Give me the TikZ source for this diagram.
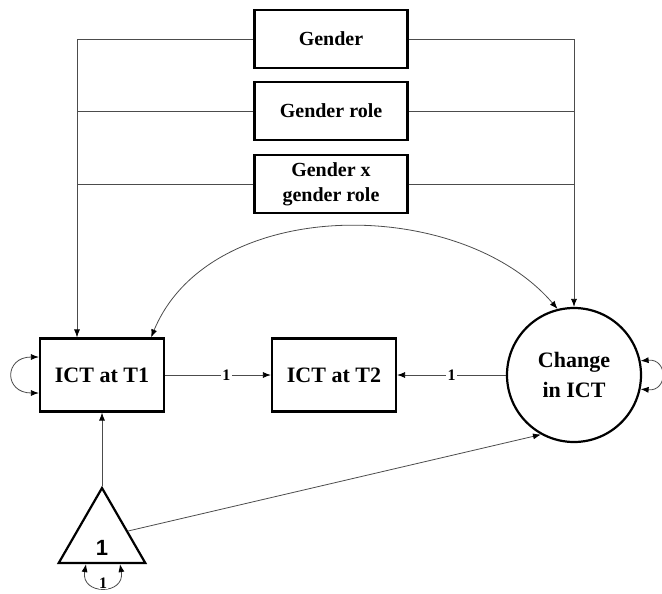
\documentclass[tikz,border=0pt]{standalone}
\usepackage{fontspec}
\setmainfont{Liberation Serif}
\newfontfamily\numfont{Liberation Sans}
\usetikzlibrary{shapes.geometric, arrows.meta}
\tikzstyle{varbox} = [rectangle, draw=black, line width=2.2pt, inner sep=0pt,
                      minimum width=153pt, minimum height=58pt, align=center,
                      font=\bfseries\fontsize{20}{25}\selectfont]
\tikzstyle{obsbox} = [varbox, minimum width=124pt, minimum height=73pt,
                      font=\bfseries\fontsize{22}{26}\selectfont]
\tikzstyle{latent} = [circle, draw=black, line width=2.2pt, minimum size=134pt,
                      inner sep=0pt, align=center,
                      font=\bfseries\fontsize{22}{30}\selectfont]
\tikzstyle{const} = [regular polygon, regular polygon sides=3, draw=black,
                     line width=2.2pt, minimum size=100pt, inner sep=0pt,
                     font=\numfont\bfseries\fontsize{22}{24}\selectfont]
\tikzstyle{link} = [draw=black!70, line width=0.8pt]
\tikzstyle{arrow} = [link, -{Latex[length=8pt,width=6pt,color=black]}]
\tikzstyle{covar} = [link, {Latex[length=8pt,width=6pt,color=black]}-{Latex[length=8pt,width=6pt,color=black]}]
\tikzstyle{wt} = [fill=white, inner sep=1.5pt, font=\bfseries\fontsize{16}{18}\selectfont]

\begin{document}
\begin{tikzpicture}[x=1pt, y=1pt]
    \useasboundingbox (0,0) rectangle (662,-594);

    % covariates
    \node (gen) [varbox] at (331,-39) {Gender};
    \node (genrole) [varbox] at (331,-111) {Gender role};
    \node (genint) [varbox] at (331,-184) {Gender x\\gender role};

    % measures and factors
    \node (ict1) [obsbox] at (102,-375) {ICT at T1};
    \node (ict2) [obsbox] at (334,-375) {ICT at T2};
    \node (chg) [latent] at (574,-375) {Change\\in ICT};
    \node (one) [const] at (102,-538) {\raisebox{-17pt}[0pt][0pt]{1}};

    \coordinate (ldrop) at ([xshift=-25pt]ict1.north);

    % covariate paths
    \draw [arrow] (gen.west) -| (ldrop);
    \draw [link] (genrole.west) -- (genrole.west -| ldrop);
    \draw [link] (genint.west) -- (genint.west -| ldrop);
    \draw [arrow] (gen.east) -| (chg.north);
    \draw [link] (genrole.east) -- (genrole.east -| chg.north);
    \draw [link] (genint.east) -- (genint.east -| chg.north);

    % loadings
    \draw [arrow] (ict1) -- node[wt, pos=0.58] {1} (ict2);
    \draw [arrow] (chg) -- node[wt] {1} (ict2);
    \draw [arrow] (one.corner 1) -- (ict1.south);
    \draw [arrow] (one.15) -- (chg.241);

    % covariance and variances
    \draw [covar] ([xshift=-14pt]ict1.north east) .. controls (210,-195) and (460,-195) .. (chg.104);
    \draw [covar] ([yshift=18pt]ict1.west) to[out=180, in=180, looseness=2.5] ([yshift=-18pt]ict1.west);
    \draw [covar] (chg.12) to[out=5, in=-5, looseness=2.5] (chg.-12);
    \draw [covar] ([xshift=-16pt]one.south) to[out=-100, in=-80, looseness=2.4]
        node[wt, pos=0.5, inner sep=0.5pt, yshift=4pt] {1} ([xshift=18pt]one.south);

\end{tikzpicture}
\end{document}
